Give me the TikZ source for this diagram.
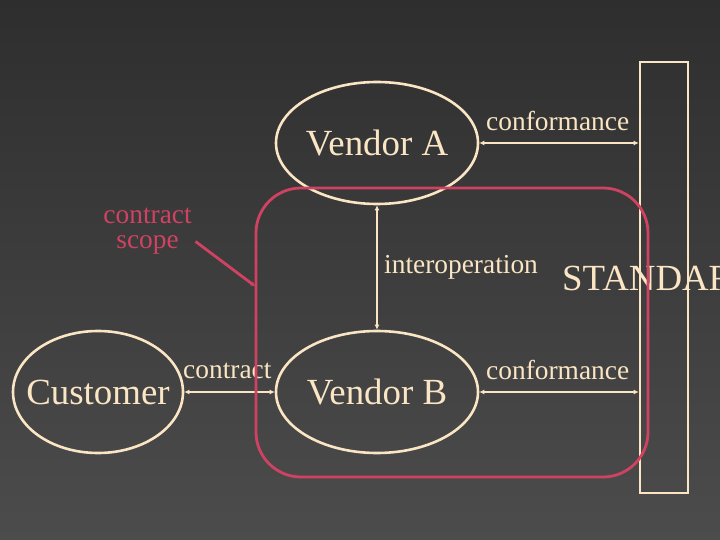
\documentclass[tikz,border=0pt]{standalone}
\usepackage{fontspec}
\setmainfont{Liberation Serif}
\usetikzlibrary{arrows.meta,shapes.geometric}
\definecolor{cream}{RGB}{250,229,196}
\definecolor{scopered}{RGB}{208,66,98}
\definecolor{bgtop}{RGB}{46,46,46}
\definecolor{bgbot}{RGB}{76,76,76}
\tikzset{
  actor/.style={ellipse,draw=cream,line width=2.6bp,minimum width=202bp,minimum height=122bp,inner sep=0pt,text=cream,font=\fontsize{37}{40}\selectfont},
  lbl/.style={text=cream,inner sep=0pt,font=\fontsize{27.5}{30}\selectfont},
  link/.style={draw=cream,line width=2.4bp,{Latex[length=5bp,width=5bp]}-{Latex[length=5bp,width=5bp]}},
}
\begin{document}
\begin{tikzpicture}[x=1bp,y=-1bp]
\shade[top color=bgtop,bottom color=bgbot] (0,0) rectangle (720,540);
\useasboundingbox (0,0) rectangle (720,540);
\clip (0,0) rectangle (720,540);
% standard bar
\node[draw=cream,line width=2.6bp,minimum width=48bp,minimum height=431bp,inner sep=0pt] (std) at (664,277.5) {};
\node[text=cream,inner sep=0pt,anchor=base west,font=\fontsize{37}{40}\selectfont] (stdtxt) at (562,290) {STANDARD};
% actors
\node[actor] (va) at (377,143) {\makebox[0pt]{Vendor A}};
\node[actor] (vb) at (377,392) {\makebox[0pt]{Vendor B}};
\node[actor,minimum width=170bp] (cu) at (98,392) {\makebox[0pt]{Customer}};
% links
\draw[link] (va.east) -- (std.west |- va.east);
\draw[link] (vb.east) -- (std.west |- vb.east);
\draw[link] (cu.east) -- (vb.west);
\draw[link,line width=1.8bp] (va.south) -- (vb.north);
% labels
\node[lbl,anchor=base west] (confa) at (486,130.5) {conformance};
\node[lbl,anchor=base west] (confb) at (486,379.5) {conformance};
\node[lbl,anchor=base west] (contr) at (183,378) {contract};
\node[lbl,anchor=base west] (inter) at (384,273.5) {interoperation};
% contract scope
\node[draw=scopered,line width=2.8bp,rounded corners=45bp,minimum width=392bp,minimum height=289bp,inner sep=0pt] (scope) at (452,332.5) {};
\node[text=scopered,inner sep=0pt,align=center,font=\fontsize{27.5}{25.5}\selectfont,anchor=base] (sclbl) at (147.6,249) {contract\\scope};
\coordinate (scopept) at (255.5,286.5);
\draw[draw=scopered,line width=2.8bp,-{Latex[length=5bp,width=5bp]}] (195.5,241.5) -- (scopept);
\end{tikzpicture}
\end{document}
